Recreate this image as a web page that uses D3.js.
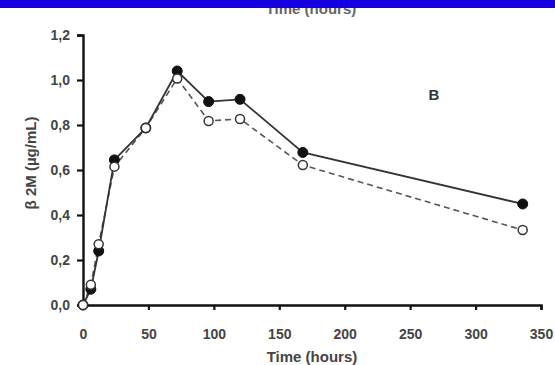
<!DOCTYPE html>
<html>
<head>
<meta charset="utf-8">
<script src="https://cdn.jsdelivr.net/npm/d3@7"></script>
<style>
  body { margin: 0; background: #fff; }
  text { font-family: "Liberation Sans", Arial, sans-serif; fill: #333; }
</style>
</head>
<body>
<div id="chart"></div>
<script>
// data
var hours = [0, 6, 12, 24, 48, 72, 96, 120, 168, 336];
var filledValues = [0.0, 0.07, 0.24, 0.645, 0.787, 1.04, 0.904, 0.914, 0.678, 0.449];
var openValues = [0.0, 0.09, 0.27, 0.615, 0.787, 1.007, 0.818, 0.827, 0.622, 0.333];
var xTicks = [0, 50, 100, 150, 200, 250, 300, 350];
var yTicks = [0, 0.2, 0.4, 0.6, 0.8, 1.0, 1.2];

var width = 555, height = 365;

var svg = d3.select("#chart").append("svg")
    .attr("width", width)
    .attr("height", height);

var x = d3.scaleLinear().domain([0, 350]).range([83, 541]);
var y = d3.scaleLinear().domain([0, 1.2]).range([305, 35]);

var fmt = function (d) { return d3.format(".1f")(d).replace(".", ","); };

// cut-off title of the panel above
svg.append("text")
    .attr("x", 311)
    .attr("y", 14)
    .attr("text-anchor", "middle")
    .style("font-size", "15px")
    .style("font-weight", "bold")
    .style("fill", "#666")
    .text("Time (hours)");

svg.append("rect")
    .attr("x", 0).attr("y", 0)
    .attr("width", width).attr("height", 8)
    .attr("fill", "#1500e0");

// axes
var xAxis = svg.append("g")
    .attr("transform", "translate(0,305)")
    .call(d3.axisBottom(x).tickValues(xTicks).tickSize(5).tickPadding(19));

var yAxis = svg.append("g")
    .attr("transform", "translate(83,0)")
    .call(d3.axisLeft(y).tickValues(yTicks).tickSize(6).tickPadding(7).tickFormat(fmt));

[xAxis, yAxis].forEach(function (a) {
    a.select(".domain").attr("stroke", "#111").attr("stroke-width", 2.4);
    a.selectAll(".tick line").attr("stroke", "#111").attr("stroke-width", 2.2);
    a.selectAll(".tick text")
        .style("font-size", "14px")
        .style("font-weight", "bold")
        .style("fill", "#444");
});

// axis titles
svg.append("text")
    .attr("x", 312)
    .attr("y", 362)
    .attr("text-anchor", "middle")
    .style("font-size", "15px")
    .style("font-weight", "bold")
    .style("fill", "#444")
    .text("Time (hours)");

svg.append("text")
    .attr("transform", "translate(36,163) rotate(-90)")
    .attr("text-anchor", "middle")
    .style("font-size", "15px")
    .style("font-weight", "bold")
    .style("fill", "#444")
    .text("β 2M (µg/mL)");

svg.append("text")
    .attr("x", 434)
    .attr("y", 100)
    .attr("text-anchor", "middle")
    .style("font-size", "15px")
    .style("font-weight", "bold")
    .style("fill", "#333")
    .text("B");

// series
var filled = hours.map(function (h, i) { return { t: h, v: filledValues[i] }; });
var open = hours.map(function (h, i) { return { t: h, v: openValues[i] }; });

var line = d3.line()
    .x(function (d) { return x(d.t); })
    .y(function (d) { return y(d.v); });

svg.append("path")
    .datum(open)
    .attr("d", line)
    .attr("fill", "none")
    .attr("stroke", "#555")
    .attr("stroke-width", 1.6)
    .attr("stroke-dasharray", "6,4");

svg.append("path")
    .datum(filled)
    .attr("d", line)
    .attr("fill", "none")
    .attr("stroke", "#333")
    .attr("stroke-width", 1.8);

svg.selectAll("circle.filled")
    .data(filled)
    .enter()
    .append("circle")
    .attr("class", "filled")
    .attr("cx", function (d) { return x(d.t); })
    .attr("cy", function (d) { return y(d.v); })
    .attr("r", 5)
    .attr("fill", "#111")
    .attr("stroke", "#111");

svg.selectAll("circle.open")
    .data(open)
    .enter()
    .append("circle")
    .attr("class", "open")
    .attr("cx", function (d) { return x(d.t); })
    .attr("cy", function (d) { return y(d.v); })
    .attr("r", 4.5)
    .attr("fill", "#fff")
    .attr("stroke", "#333")
    .attr("stroke-width", 1.5);
</script>
</body>
</html>
